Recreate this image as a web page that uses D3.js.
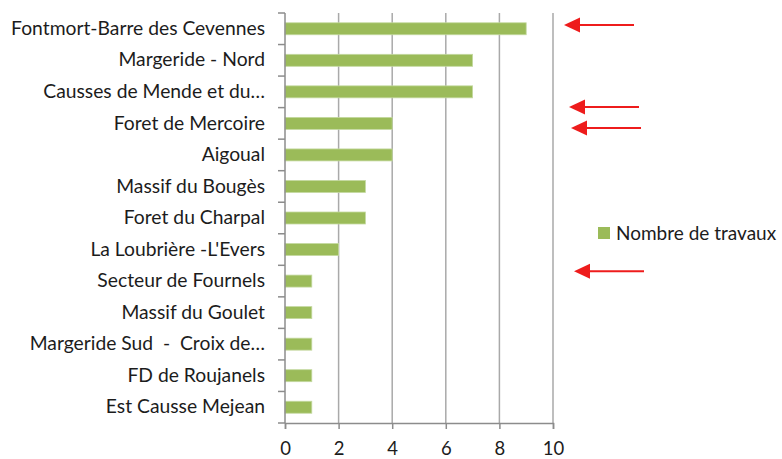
<!DOCTYPE html>
<html>
<head>
<meta charset="utf-8">
<script src="https://cdn.jsdelivr.net/npm/d3@7"></script>
<style>
  body { margin: 0; background: #fff; }
  text { font-family: Lato, "Open Sans", sans-serif; fill: #1c1c1c; }
</style>
</head>
<body>
<div id="chart"></div>
<script>
// donnees
var secteurs = ["Fontmort-Barre des Cevennes", "Margeride - Nord", "Causses de Mende et du\u2026",
  "Foret de Mercoire", "Aigoual", "Massif du Boug\u00e8s", "Foret du Charpal",
  "La Loubri\u00e8re -L'Evers", "Secteur de Fournels", "Massif du Goulet",
  "Margeride Sud\u00a0\u00a0-\u00a0\u00a0Croix de\u2026", "FD de Roujanels", "Est Causse Mejean"];
var travaux = [9, 7, 7, 4, 4, 3, 3, 2, 1, 1, 1, 1, 1];
var xTicks = [0, 2, 4, 6, 8, 10];
var serie = "Nombre de travaux";
// fleches rouges ajoutees sur l'image (position en rangs de categories)
var fleches = [0.38, 2.98, 3.65, 8.19];

var W = 782, H = 459;
var mg = 285, mh = 13, pw = 268, ph = 410;

var svg = d3.select("#chart").append("svg")
    .attr("width", W).attr("height", H);

var x = d3.scaleLinear().domain([0, 10]).range([mg, mg + pw]);
var y = d3.scaleBand().domain(secteurs).range([mh, mh + ph]).paddingInner(0.62).paddingOuter(0.31);
var rang = d3.scaleLinear().domain([0, secteurs.length]).range([mh, mh + ph]);

// grille verticale
svg.selectAll(".grid")
    .data(xTicks.slice(1))
    .enter().append("line")
      .attr("x1", d => x(d)).attr("x2", d => x(d))
      .attr("y1", mh).attr("y2", mh + ph)
      .style("stroke", "#a9a9a9").style("stroke-width", 1.5);

// barres
svg.selectAll(".bar")
    .data(travaux)
    .enter().append("rect")
      .attr("x", x(0))
      .attr("y", (d, i) => y(secteurs[i]))
      .attr("width", d => x(d) - x(0))
      .attr("height", y.bandwidth())
      .style("fill", "#9bbb59")
      .style("stroke", "#c4d9a0").style("stroke-width", 0.8);

// axe vertical avec graduations entre categories
var axeY = d3.axisLeft(y).tickSize(0).tickPadding(20);
svg.append("g").attr("transform", "translate(" + mg + ",0)").call(axeY)
    .call(g => g.select(".domain").remove())
    .selectAll("text").style("font-size", "19.3px").style("fill", "#1c1c1c");

svg.selectAll(".ytick")
    .data(d3.range(secteurs.length + 1))
    .enter().append("line")
      .attr("x1", mg - 7).attr("x2", mg)
      .attr("y1", d => rang(d)).attr("y2", d => rang(d))
      .style("stroke", "#8c8c8c").style("stroke-width", 1.5);
svg.append("line")
    .attr("x1", mg).attr("x2", mg).attr("y1", mh).attr("y2", mh + ph)
    .style("stroke", "#8c8c8c").style("stroke-width", 1.5);

// axe horizontal
var axeX = d3.axisBottom(x).tickValues(xTicks).tickSize(6).tickPadding(13);
var gx = svg.append("g").attr("transform", "translate(0," + (mh + ph) + ")").call(axeX);
gx.select(".domain").style("stroke", "#8c8c8c").style("stroke-width", 1.5);
gx.selectAll(".tick line").style("stroke", "#8c8c8c").style("stroke-width", 1.5);
gx.selectAll("text").style("font-size", "18.5px").style("fill", "#1c1c1c");

// legende
var leg = svg.append("g").attr("transform", "translate(598,227)");
leg.append("rect").attr("width", 12).attr("height", 12).style("fill", "#9bbb59");
leg.append("text").attr("x", 18).attr("y", 6).attr("dy", "0.35em")
    .style("font-size", "19px").text(serie);

// fleches rouges
var fl = svg.selectAll(".fleche").data(fleches).enter().append("g")
    .attr("transform", (d, i) => "translate(" + (564 + [0, 5, 7, 10][i]) + "," + rang(d) + ")");
fl.append("line").attr("x1", 12).attr("x2", 70).attr("y1", 0).attr("y2", 0)
    .style("stroke", "#ee1c1c").style("stroke-width", 2);
fl.append("path").attr("d", "M0,0 L16,-7.5 L16,7.5 Z").style("fill", "#ee1c1c");
</script>
</body>
</html>
